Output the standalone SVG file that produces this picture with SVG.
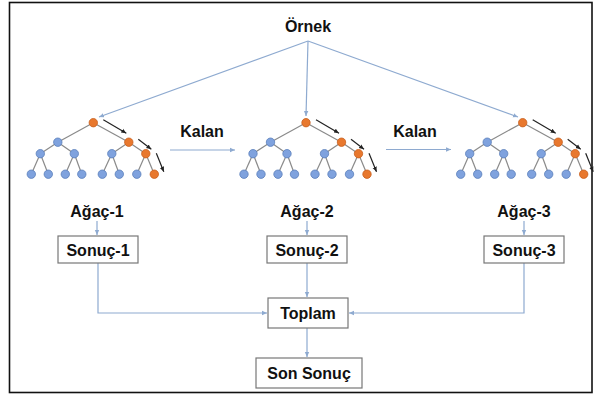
<svg xmlns="http://www.w3.org/2000/svg" xmlns:xlink="http://www.w3.org/1999/xlink" width="594" height="396" viewBox="0 0 594 396">
<style>
.t{font-family:"Liberation Sans",Arial,sans-serif;font-weight:bold;font-size:16px;fill:#111;text-anchor:middle}
.c{fill:none;stroke:#8eaad0;stroke-width:1.2}
.box{fill:#fff;stroke:#777;stroke-width:1.2}
.e{stroke:#8a8a8a;stroke-width:1.2}
.b{fill:#7fa2de;stroke:#5b7fba;stroke-width:0.8}
.o{fill:#e8782e;stroke:#c85e1c;stroke-width:0.8}
.k{stroke:#222;stroke-width:1.2;fill:none}
</style>
<defs>
<marker id="ah" markerWidth="6" markerHeight="6" refX="5" refY="3" orient="auto" markerUnits="userSpaceOnUse">
<path d="M0,0.8 L5,3 L0,5.2 Z" fill="#8eaad0"/>
</marker>
<marker id="kh" markerWidth="6" markerHeight="6" refX="5" refY="3" orient="auto" markerUnits="userSpaceOnUse">
<path d="M0,0.8 L5,3 L0,5.2 Z" fill="#222"/>
</marker>
<g id="tree">
<g class="e">
<line x1="0" y1="0" x2="-35.5" y2="19.5"/><line x1="0" y1="0" x2="35.5" y2="19.5"/>
<line x1="-35.5" y1="19.5" x2="-53" y2="31"/><line x1="-35.5" y1="19.5" x2="-19" y2="31"/>
<line x1="35.5" y1="19.5" x2="18.5" y2="31"/><line x1="35.5" y1="19.5" x2="52.5" y2="31"/>
<line x1="-53" y1="31" x2="-62" y2="51.5"/><line x1="-53" y1="31" x2="-45" y2="51.5"/>
<line x1="-19" y1="31" x2="-28" y2="51.5"/><line x1="-19" y1="31" x2="-11.5" y2="51.5"/>
<line x1="18.5" y1="31" x2="9" y2="51.5"/><line x1="18.5" y1="31" x2="26" y2="51.5"/>
<line x1="52.5" y1="31" x2="43.5" y2="51.5"/><line x1="52.5" y1="31" x2="61" y2="51.5"/>
</g>
<circle class="o" cx="0" cy="0" r="4.2"/>
<circle class="b" cx="-35.5" cy="19.5" r="4.2"/><circle class="o" cx="35.5" cy="19.5" r="4.2"/>
<circle class="b" cx="-53" cy="31" r="4.2"/><circle class="b" cx="-19" cy="31" r="4.2"/>
<circle class="b" cx="18.5" cy="31" r="4.2"/><circle class="o" cx="52.5" cy="31" r="4.2"/>
<circle class="b" cx="-62" cy="51.5" r="4.2"/><circle class="b" cx="-45" cy="51.5" r="4.2"/>
<circle class="b" cx="-28" cy="51.5" r="4.2"/><circle class="b" cx="-11.5" cy="51.5" r="4.2"/>
<circle class="b" cx="9" cy="51.5" r="4.2"/><circle class="b" cx="26" cy="51.5" r="4.2"/>
<circle class="b" cx="43.5" cy="51.5" r="4.2"/><circle class="o" cx="61" cy="51.5" r="4.2"/>
<line class="k" x1="10" y1="-3" x2="33" y2="10.5" marker-end="url(#kh)"/>
<line class="k" x1="45" y1="16.5" x2="58" y2="26.5" marker-end="url(#kh)"/>
<line class="k" x1="63" y1="30.5" x2="70.5" y2="49" marker-end="url(#kh)"/>
</g>
</defs>
<rect x="0" y="0" width="594" height="396" fill="#fff"/>
<rect x="9.5" y="2.5" width="582.5" height="390" fill="none" stroke="#111" stroke-width="1.6"/>

<g id="connectors">
<line class="c" x1="308" y1="41" x2="99" y2="117" marker-end="url(#ah)"/>
<line class="c" x1="308" y1="41" x2="306" y2="116" marker-end="url(#ah)"/>
<line class="c" x1="308" y1="41" x2="518" y2="117" marker-end="url(#ah)"/>
<line class="c" x1="170" y1="150" x2="235" y2="150" marker-end="url(#ah)"/>
<line class="c" x1="386" y1="149.5" x2="451" y2="149.5" marker-end="url(#ah)"/>
<line class="c" x1="97" y1="221" x2="97" y2="235" marker-end="url(#ah)"/>
<line class="c" x1="307" y1="221" x2="307" y2="235" marker-end="url(#ah)"/>
<line class="c" x1="524" y1="221" x2="524" y2="235" marker-end="url(#ah)"/>
<polyline class="c" points="98,263 98,313 267,313" marker-end="url(#ah)"/>
<polyline class="c" points="524,263 524,313 349,313" marker-end="url(#ah)"/>
<line class="c" x1="307" y1="263" x2="307" y2="297" marker-end="url(#ah)"/>
<line class="c" x1="307" y1="328" x2="307" y2="357" marker-end="url(#ah)"/>
</g>

<g id="ornek"><text class="t" x="308" y="32">Örnek</text></g>
<g id="kalan1"><text class="t" x="202" y="137">Kalan</text></g>
<g id="kalan2"><text class="t" x="415" y="137">Kalan</text></g>

<g id="agac1"><use xlink:href="#tree" href="#tree" transform="translate(93.3,122.7)"/><text class="t" x="97" y="217">Ağaç-1</text></g>
<g id="agac2"><use xlink:href="#tree" href="#tree" transform="translate(306,122.7)"/><text class="t" x="307" y="217">Ağaç-2</text></g>
<g id="agac3"><use xlink:href="#tree" href="#tree" transform="translate(522.7,122.7)"/><text class="t" x="524" y="217">Ağaç-3</text></g>

<g id="sonuc1"><rect class="box" x="58" y="236" width="80" height="27"/><text class="t" x="98" y="255.5">Sonuç-1</text></g>
<g id="sonuc2"><rect class="box" x="267" y="236" width="80" height="27"/><text class="t" x="307" y="255.5">Sonuç-2</text></g>
<g id="sonuc3"><rect class="box" x="484" y="236" width="80" height="27"/><text class="t" x="524" y="255.5">Sonuç-3</text></g>
<g id="toplam"><rect class="box" x="268" y="298" width="80" height="30"/><text class="t" x="308" y="319">Toplam</text></g>
<g id="sonsonuc"><rect class="box" x="256" y="358" width="106" height="30"/><text class="t" x="309" y="379">Son Sonuç</text></g>
</svg>
